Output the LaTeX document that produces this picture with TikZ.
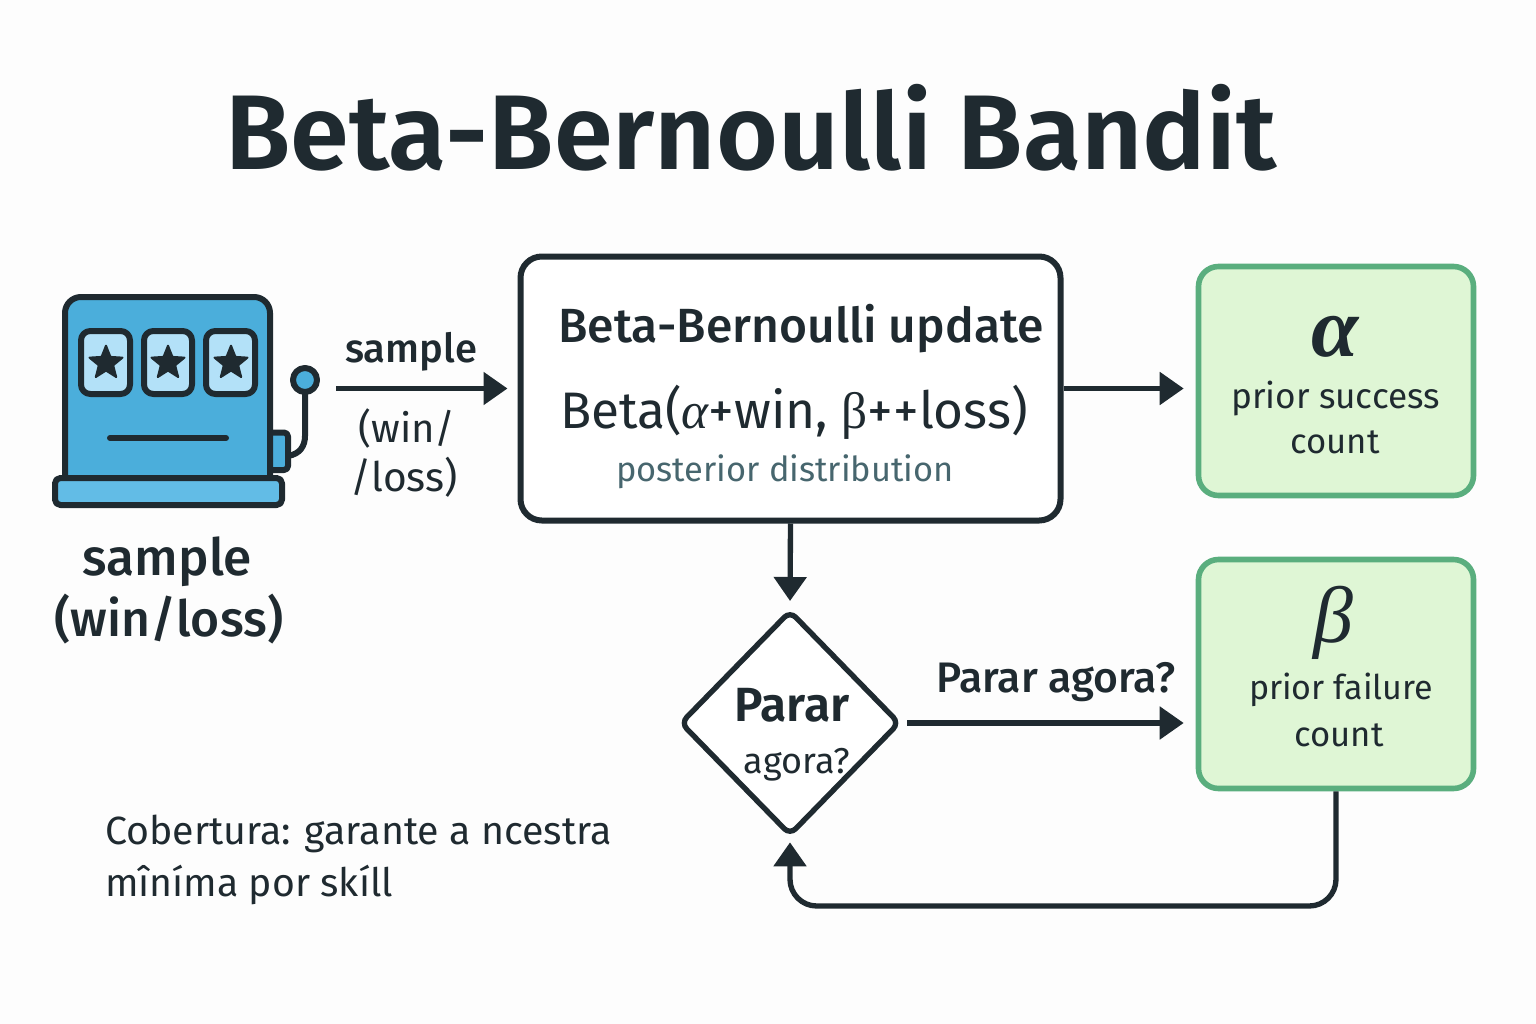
\documentclass[tikz,border=0pt]{standalone}
\usepackage{fontspec}
\setmainfont{Fira Sans}
\newfontfamily\med{Fira Sans Medium}
\newfontfamily\semi{Fira Sans SemiBold}
\newfontfamily\grk{Liberation Serif}
\usetikzlibrary{arrows.meta,shapes.geometric}
\definecolor{ink}{HTML}{1F2A30}
\definecolor{teal}{HTML}{47666E}
\definecolor{bg}{HTML}{FDFDFD}
\definecolor{blue1}{HTML}{4BAEDB}
\definecolor{blue2}{HTML}{62BCE6}
\definecolor{blue3}{HTML}{B3E1F8}
\definecolor{gfill}{HTML}{DFF6D5}
\definecolor{gline}{HTML}{5AAE7E}
\newcommand{\fs}[1]{\fontsize{#1pt}{#1pt}\selectfont}
\tikzset{
 lbl/.style={anchor=base,inner sep=0pt,outer sep=0pt,text=ink},
 flow/.style={draw=ink,line width=4pt,-{Triangle[length=18pt,width=24pt]}},
 mainbox/.style={draw=ink,fill=white,line width=4.5pt,rounded corners=16pt,minimum width=405pt,minimum height=198pt,inner sep=0pt},
 greenbox/.style={draw=gline,fill=gfill,line width=4.2pt,rounded corners=15pt,minimum width=206.25pt,minimum height=171.75pt,inner sep=0pt},
 decision/.style={diamond,aspect=1,draw=ink,fill=white,line width=4pt,rounded corners=6pt,minimum width=165pt,minimum height=169pt,inner sep=0pt},
 iconline/.style={draw=ink,line width=4.5pt,line join=round},
 reel/.style={iconline,fill=blue3,rounded corners=7pt},
 starshape/.style={star,star points=5,star point ratio=2.3,fill=ink,draw=ink,line width=1.5pt,line join=round,minimum size=26pt,inner sep=0pt}
}
\begin{document}
\begin{tikzpicture}[x=0.75pt,y=-0.75pt]
\useasboundingbox (0,0) rectangle (1536,1024);
\fill[bg] (0,0) rectangle (1536,1024);
\node[lbl] (title) at (751,170) {\semi\fs{79.6}Beta-Bernoulli Bandit};
% slot machine
\draw[iconline,fill=blue1,rounded corners=3pt] (265,432.5) rectangle (288,470);
\draw[iconline,line cap=round] (288,456) .. controls (300,454) and (305,446) .. (305,436) -- (305,392);
\draw[iconline,fill=blue1] (305,380) circle (9pt);
\draw[iconline,fill=blue1,rounded corners=12pt] (65,500) -- (65,297) -- (270,297) -- (270,500) -- cycle;
\draw[iconline,fill=blue2,rounded corners=4pt] (55,478) rectangle (282,505);
\draw[reel] (81,331) rectangle (130,394);
\draw[reel] (144,331) rectangle (192,394);
\draw[reel] (206,331) rectangle (255,394);
\node[starshape] (s1) at (106,363) {};
\node[starshape] (s2) at (168,363) {};
\node[starshape] (s3) at (231,363) {};
\draw[iconline,line cap=round] (110,438) -- (226,438);
% boxes
\node[mainbox] (main) at (790.5,388.5) {};
\node[greenbox] (alpha) at (1336,381) {};
\node[greenbox] (beta) at (1336,674) {};
\node[decision] (dia) at (790,723) {};
% connectors
\coordinate (src) at (336,388.5);
\coordinate (fb) at (790,906);
\draw[flow,shorten >=7.5pt] (src) -- (main.west);
\draw[flow,shorten >=9pt] (main.east) -- (main.east -| alpha.west);
\draw[flow,shorten >=5pt] (main.south) -- (dia.north);
\draw[flow,shorten <=3.5pt,shorten >=9pt] (dia.east) -- (dia.east -| beta.west);
\draw[flow,rounded corners=20pt,shorten >=3pt] (beta.south) |- (fb) -- (dia.south);
% labels
\node[lbl] (l1) at (411,362) {\med\fs{30}sample};
\node[lbl] (l2) at (407,442) {\fs{30}(win/};
\node[lbl] (l3) at (404,491) {\fs{30.5}/loss)};
\node[lbl] (l4) at (167.5,575) {\med\fs{38.5}sample};
\node[lbl] (l5) at (169,636) {\med\fs{37.4}(win/loss)};
\node[lbl] (m1) at (801,342) {\med\fs{36}Beta-Bernoulli update};
\node[lbl] (m2) at (794,428) {\fs{38.5}Beta({\grk\itshape α}+win, {\grk β}++loss)};
\node[lbl,text=teal] (m3) at (785,481) {\fs{25.8}posterior distribution};
\node[lbl] (a1) at (1335,356) {\grk\itshape\bfseries\fs{64}α};
\node[lbl] (a2) at (1335.5,408) {\fs{26.4}prior success};
\node[lbl] (a3) at (1335,453) {\fs{26}count};
\node[lbl] (b1) at (1333,642) {\grk\itshape\fs{60}β};
\node[lbl] (b2) at (1341,699) {\fs{25.5}prior failure};
\node[lbl] (b3) at (1339,746) {\fs{26}count};
\node[lbl] (d1) at (792,721) {\semi\fs{36}Parar};
\node[lbl] (d2) at (797,773) {\fs{27}agora?};
\node[lbl] (e1) at (1056,692) {\med\fs{32}Parar agora?};
\node[lbl,anchor=base west] (c1) at (105,844) {\fs{29.5}Cobertura: garante a ncestra};
\node[lbl,anchor=base west] (c2) at (105,896) {\fs{29.4}mîníma por skíll};
\end{tikzpicture}
\end{document}
